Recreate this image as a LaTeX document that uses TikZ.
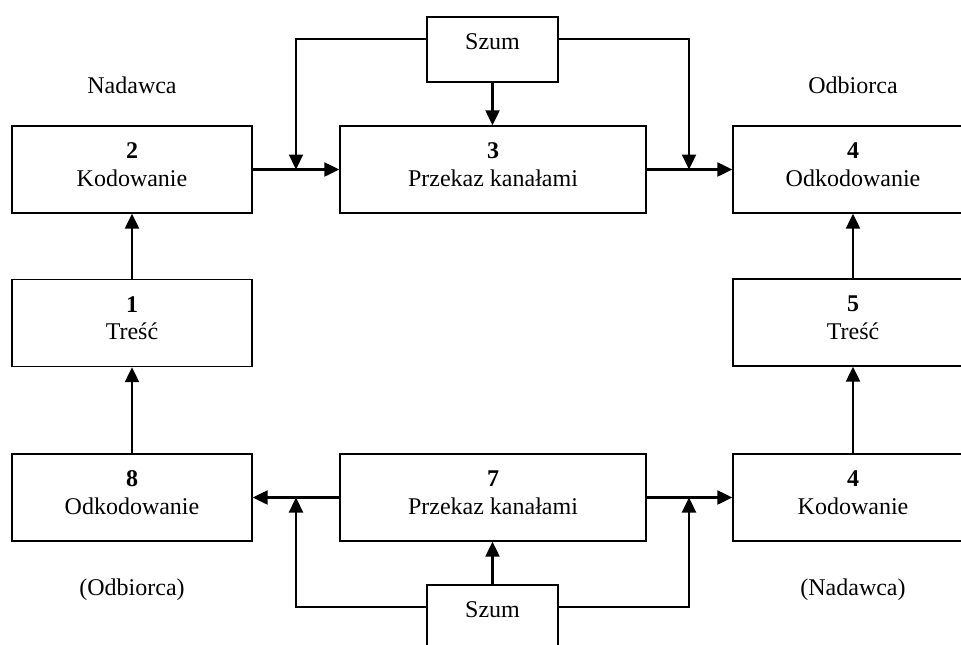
\documentclass[tikz,border=0pt]{standalone}
\usepackage{fontspec}
\setmainfont{Liberation Serif}
\usetikzlibrary{arrows.meta}
% number in bold over the step name; the strut lifts the two lines a little
\newcommand\boxtext[2]{\textbf{#1}\\#2\rule[-10pt]{0pt}{10pt}}

\begin{document}
\begin{tikzpicture}[x=1pt,y=-1pt,
  txt/.style={font=\fontsize{24}{27.5}\selectfont},
  blk/.style={txt, draw, line width=1.4pt, minimum width=240pt, minimum height=87pt,
              inner sep=0pt, align=center},
  wide/.style={blk, minimum width=306pt},
  noise/.style={txt, draw, line width=1.4pt, minimum width=131pt, minimum height=65pt,
                inner sep=0pt, text height=16pt, text depth=16pt},
  conn/.style={line width=2.3pt, -{Triangle[length=15pt,width=14pt]}},
  side/.style={txt}]

\useasboundingbox (0,0) rectangle (961,645);
\clip (0,0) rectangle (961,645);

% left column
\node[blk] (k2) at (132,169.5) {\boxtext{2}{Kodowanie}};
\node[blk] (t1) at (132,323)   {\boxtext{1}{Treść}};
\node[blk] (o8) at (132,497.5) {\boxtext{8}{Odkodowanie}};

% middle column
\node[wide] (p3) at (493,169.5) {\boxtext{3}{Przekaz kanałami}};
\node[wide] (p7) at (493,497.5) {\boxtext{7}{Przekaz kanałami}};
\node[noise] (sT) at (492.5,49.5)  {Szum};
\node[noise] (sB) at (492.5,617.5) {Szum};

% right column
\node[blk] (o4) at (853,169.5) {\boxtext{4}{Odkodowanie}};
\node[blk] (t5) at (853,322.5) {\boxtext{5}{Treść}};
\node[blk] (k4) at (853,497.5) {\boxtext{4}{Kodowanie}};

% role captions
\node[side] (nad)  at (132,85)  {Nadawca};
\node[side] (odb)  at (853,85)  {Odbiorca};
\node[side] (odb2) at (132,590) {(Odbiorca)};
\node[side] (nad2) at (853,590) {(Nadawca)};

% junctions where noise joins the channel
\coordinate (jTL) at (296,169.5);
\coordinate (jTR) at (689,169.5);
\coordinate (jBL) at (296,497.5);
\coordinate (jBR) at (689,497.5);

% upper flow
\draw[conn] (k2.east) -- (p3.west);
\draw[conn] (p3.east) -- (o4.west);
\draw[conn] ([yshift=10.5pt]sT.west) -| (jTL);
\draw[conn] ([yshift=10.5pt]sT.east) -| (jTR);
\draw[conn] (sT.south) -- (sT.south |- p3.north);

% side columns
\draw[conn] (t1.north) -- (k2.south);
\draw[conn] (o8.north) -- (t1.south);
\draw[conn] (k4.north) -- (t5.south);
\draw[conn] (t5.north) -- (o4.south);

% lower flow
\draw[conn] (p7.west) -- (o8.east);
\draw[conn] (p7.east) -- (k4.west);
\draw[conn] ([yshift=10.5pt]sB.west) -| (jBL);
\draw[conn] ([yshift=10.5pt]sB.east) -| (jBR);
\draw[conn] (sB.north) -- (sB.north |- p7.south);
\end{tikzpicture}
\end{document}
